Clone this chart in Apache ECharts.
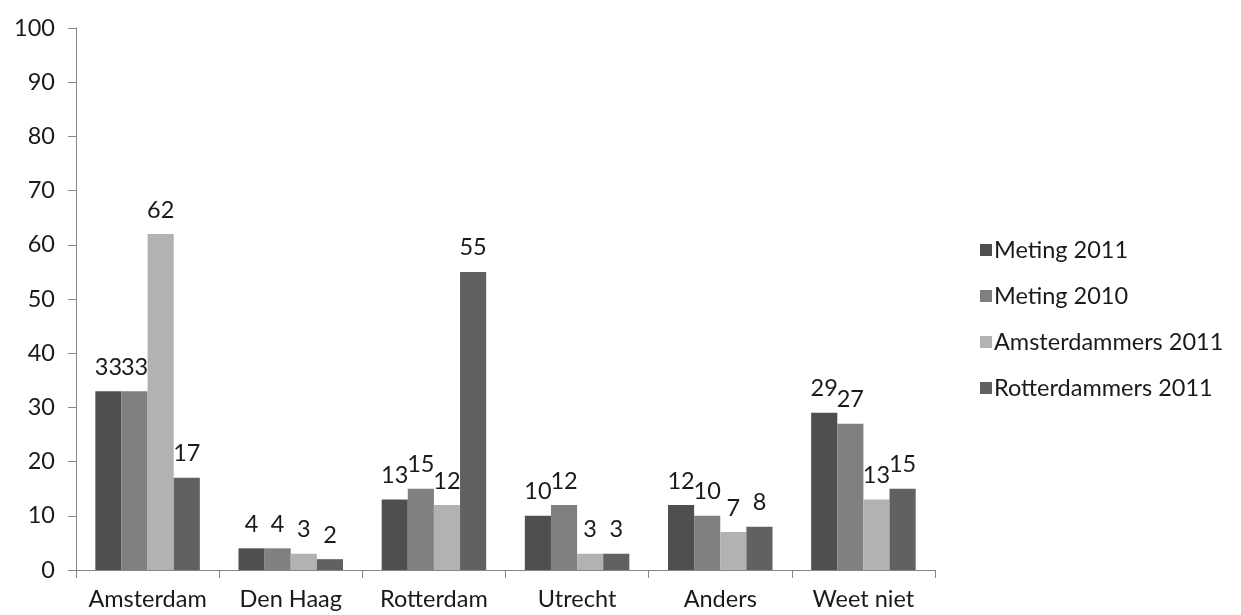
<!DOCTYPE html>
<html>
<head>
<meta charset="utf-8">
<script src="https://cdn.jsdelivr.net/npm/echarts@6/dist/echarts.min.js"></script>
<style>
html,body{margin:0;padding:0;background:#fff;}
#chart{width:1241px;height:615px;}
</style>
</head>
<body>
<div id="chart"></div>
<script>
const categories = ['Amsterdam', 'Den Haag', 'Rotterdam', 'Utrecht', 'Anders', 'Weet niet'];
const meting2011 = [33, 4, 13, 10, 12, 29];
const meting2010 = [33, 4, 15, 12, 10, 27];
const amsterdammers2011 = [62, 3, 12, 3, 7, 13];
const rotterdammers2011 = [17, 2, 55, 3, 8, 15];
const seriesNames = ['Meting 2011', 'Meting 2010', 'Amsterdammers 2011', 'Rotterdammers 2011'];
const seriesColors = ['#4f4f4f', '#808080', '#b2b2b2', '#616161'];
const seriesData = [meting2011, meting2010, amsterdammers2011, rotterdammers2011];

const FONT = 'Lato';
const FS = 23.5;
const chart = echarts.init(document.getElementById('chart'), null, {renderer: 'canvas'});
chart.setOption({
  animation: false,
  backgroundColor: '#ffffff',
  textStyle: {fontFamily: FONT},
  grid: {left: 76, right: 306, top: 28, bottom: 45, containLabel: false},
  legend: {
    orient: 'vertical',
    left: 975,
    top: 233,
    itemWidth: 12,
    itemHeight: 12,
    itemGap: 22,
    icon: 'rect',
    textStyle: {fontFamily: FONT, fontSize: FS, color: '#1a1a1a', padding: [0, 0, 0, -3]},
    data: seriesNames
  },
  xAxis: {
    type: 'category',
    data: categories,
    axisLine: {lineStyle: {color: '#868686', width: 1}},
    axisTick: {show: true, length: 8, lineStyle: {color: '#868686'}},
    axisLabel: {interval: 0, hideOverlap: false, fontFamily: FONT, fontSize: FS, color: '#1a1a1a', margin: 17}
  },
  yAxis: {
    type: 'value',
    min: 0,
    max: 100,
    interval: 10,
    splitLine: {show: false},
    axisLine: {show: true, lineStyle: {color: '#868686', width: 1}},
    axisTick: {show: true, length: 8, lineStyle: {color: '#868686'}},
    axisLabel: {fontFamily: FONT, fontSize: FS, color: '#1a1a1a', margin: 21}
  },
  series: seriesNames.map((name, i) => ({
    name: name,
    type: 'bar',
    data: seriesData[i],
    barGap: '0%',
    barCategoryGap: '27%',
    itemStyle: {color: seriesColors[i]},
    label: {
      show: true,
      position: 'top',
      distance: 12,
      fontFamily: FONT,
      fontSize: FS,
      color: '#1a1a1a'
    }
  }))
});
</script>
</body>
</html>
